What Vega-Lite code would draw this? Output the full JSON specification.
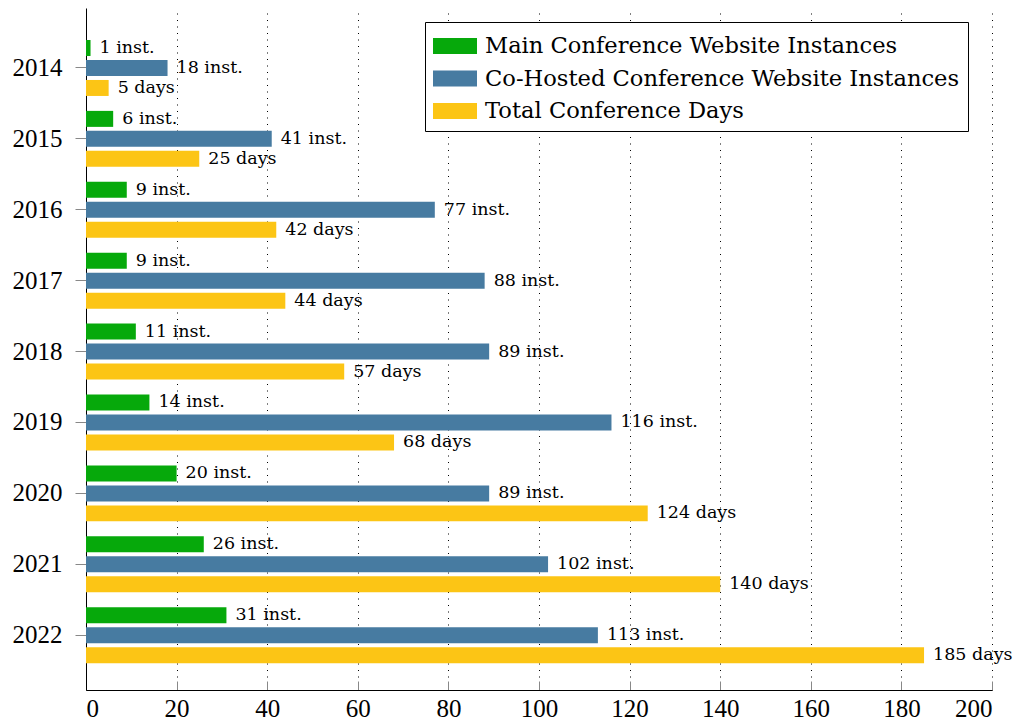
{
  "$schema": "https://vega.github.io/schema/vega-lite/v6.json",
  "width": 906,
  "height": 682,
  "autosize": "none",
  "padding": {"left": 86, "top": 8, "right": 23, "bottom": 32},
  "background": "white",
  "config": {
    "view": {"stroke": null},
    "font": "DejaVu Serif",
    "legend": {
      "orient": "none",
      "legendX": 339,
      "legendY": 14,
      "strokeColor": "black",
      "fillColor": "white",
      "padding": 8,
      "labelFontSize": 22.6,
      "labelColor": "black",
      "labelFont": "DejaVu Serif",
      "labelLimit": 0,
      "symbolType": "M-1.375,-0.5H1.375V0.5H-1.375Z",
      "symbolSize": 1024,
      "symbolOffset": 6,
      "symbolStrokeWidth": 0,
      "symbolOpacity": 1,
      "labelOffset": 14,
      "rowPadding": 4.5
    }
  },
  "data": {
    "values": [
      {"year": "2014", "series": "Main Conference Website Instances", "value": 1, "label": "1 inst."},
      {"year": "2014", "series": "Co-Hosted Conference Website Instances", "value": 18, "label": "18 inst."},
      {"year": "2014", "series": "Total Conference Days", "value": 5, "label": "5 days"},
      {"year": "2015", "series": "Main Conference Website Instances", "value": 6, "label": "6 inst."},
      {"year": "2015", "series": "Co-Hosted Conference Website Instances", "value": 41, "label": "41 inst."},
      {"year": "2015", "series": "Total Conference Days", "value": 25, "label": "25 days"},
      {"year": "2016", "series": "Main Conference Website Instances", "value": 9, "label": "9 inst."},
      {"year": "2016", "series": "Co-Hosted Conference Website Instances", "value": 77, "label": "77 inst."},
      {"year": "2016", "series": "Total Conference Days", "value": 42, "label": "42 days"},
      {"year": "2017", "series": "Main Conference Website Instances", "value": 9, "label": "9 inst."},
      {"year": "2017", "series": "Co-Hosted Conference Website Instances", "value": 88, "label": "88 inst."},
      {"year": "2017", "series": "Total Conference Days", "value": 44, "label": "44 days"},
      {"year": "2018", "series": "Main Conference Website Instances", "value": 11, "label": "11 inst."},
      {"year": "2018", "series": "Co-Hosted Conference Website Instances", "value": 89, "label": "89 inst."},
      {"year": "2018", "series": "Total Conference Days", "value": 57, "label": "57 days"},
      {"year": "2019", "series": "Main Conference Website Instances", "value": 14, "label": "14 inst."},
      {"year": "2019", "series": "Co-Hosted Conference Website Instances", "value": 116, "label": "116 inst."},
      {"year": "2019", "series": "Total Conference Days", "value": 68, "label": "68 days"},
      {"year": "2020", "series": "Main Conference Website Instances", "value": 20, "label": "20 inst."},
      {"year": "2020", "series": "Co-Hosted Conference Website Instances", "value": 89, "label": "89 inst."},
      {"year": "2020", "series": "Total Conference Days", "value": 124, "label": "124 days"},
      {"year": "2021", "series": "Main Conference Website Instances", "value": 26, "label": "26 inst."},
      {"year": "2021", "series": "Co-Hosted Conference Website Instances", "value": 102, "label": "102 inst."},
      {"year": "2021", "series": "Total Conference Days", "value": 140, "label": "140 days"},
      {"year": "2022", "series": "Main Conference Website Instances", "value": 31, "label": "31 inst."},
      {"year": "2022", "series": "Co-Hosted Conference Website Instances", "value": 113, "label": "113 inst."},
      {"year": "2022", "series": "Total Conference Days", "value": 185, "label": "185 days"}
    ]
  },
  "encoding": {
    "y": {
      "field": "year",
      "type": "nominal",
      "sort": ["2014", "2015", "2016", "2017", "2018", "2019", "2020", "2021", "2022"],
      "scale": {"paddingInner": 0.154, "paddingOuter": 0.3865, "align": 0.547},
      "axis": {
        "title": null,
        "labelFontSize": 25,
        "labelColor": "black",
        "labelFont": "Liberation Serif",
        "tickColor": "#888888",
        "tickSize": 11,
        "labelPadding": 13,
        "domainColor": "black",
        "domainWidth": 1,
        "grid": false
      }
    },
    "yOffset": {
      "field": "series",
      "type": "nominal",
      "sort": ["Main Conference Website Instances", "Co-Hosted Conference Website Instances", "Total Conference Days"],
      "scale": {"paddingInner": 0.2, "paddingOuter": 0.1}
    },
    "x": {
      "field": "value",
      "type": "quantitative",
      "scale": {"domain": [0, 200], "nice": false},
      "axis": {
        "title": null,
        "values": [0, 20, 40, 60, 80, 100, 120, 140, 160, 180, 200],
        "labelFontSize": 25,
        "labelColor": "black",
        "labelFont": "Liberation Serif",
        "grid": true,
        "gridColor": "black",
        "gridDash": [1, 5.5],
        "gridWidth": 1,
        "gridOpacity": 1,
        "tickColor": "#888888",
        "tickSize": -9,
        "labelPadding": 15,
        "domainColor": "black",
        "domainWidth": 1
      }
    }
  },
  "layer": [
    {
      "mark": {"type": "bar"},
      "encoding": {
        "color": {
          "field": "series",
          "type": "nominal",
          "sort": ["Main Conference Website Instances", "Co-Hosted Conference Website Instances", "Total Conference Days"],
          "scale": {
            "domain": ["Main Conference Website Instances", "Co-Hosted Conference Website Instances", "Total Conference Days"],
            "range": ["#06A90B", "#477BA1", "#FCC515"]
          },
          "legend": {"title": null}
        }
      }
    },
    {
      "mark": {"type": "text", "align": "left", "baseline": "middle", "dx": 9, "fontSize": 17.5, "font": "DejaVu Serif", "color": "black"},
      "encoding": {"text": {"field": "label"}}
    }
  ]
}
